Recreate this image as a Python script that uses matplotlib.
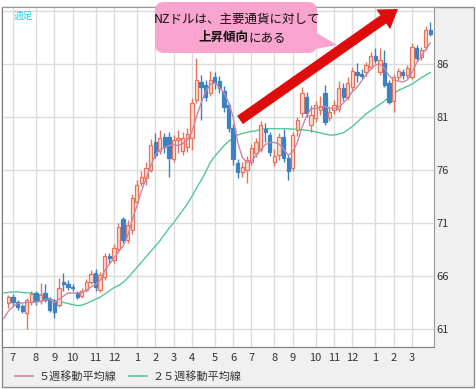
import matplotlib
matplotlib.use("Agg")
import matplotlib.pyplot as plt
from matplotlib.patches import FancyBboxPatch, FancyArrow, Polygon, Rectangle

plt.rcParams['font.family'] = ['Noto Sans CJK JP', 'DejaVu Sans']

# 週足データ（週番号 0..92）
opens = [63.45, 64.0, 63.5, 63.2, 62.5, 63.5, 64.4, 63.6, 64.4, 63.8,
         63.6, 63.3, 65.4, 65.2, 65.0, 64.4, 64.1, 64.7, 65.4, 66.3,
         64.7, 65.9, 67.9, 67.5, 68.5, 71.4, 69.4, 70.3, 73.0, 74.8,
         75.2, 76.0, 78.6, 77.8, 79.1, 79.1, 77.0, 78.8, 77.8, 78.2,
         79.0, 82.6, 84.3, 84.0, 83.3, 84.8, 84.4, 83.5, 82.1, 80.0,
         76.7, 75.8, 76.0, 76.8, 77.6, 78.0, 79.9, 79.3, 76.8, 77.4,
         79.1, 77.1, 76.2, 79.8, 81.4, 82.9, 80.2, 80.9, 81.7, 83.3,
         80.9, 81.7, 81.8, 83.7, 82.9, 83.8, 85.2, 85.1, 85.2, 85.7,
         86.8, 85.2, 86.1, 84.2, 82.5, 84.8, 85.2, 85.0, 84.8, 87.5,
         86.7, 87.6, 89.2]
highs = [64.2, 64.3, 63.7, 63.4, 63.9, 64.6, 64.6, 65.3, 65.2, 64.0,
         63.8, 65.8, 66.3, 65.6, 65.2, 64.6, 64.9, 65.7, 66.6, 66.7,
         66.4, 68.2, 68.2, 69.0, 71.0, 71.6, 71.3, 73.7, 75.1, 75.9,
         76.8, 78.9, 79.5, 79.8, 79.5, 79.6, 79.3, 79.8, 79.6, 80.0,
         82.8, 86.6, 85.0, 84.5, 85.3, 85.2, 84.9, 83.9, 82.3, 80.3,
         77.0, 76.8, 77.3, 78.5, 79.0, 80.6, 80.4, 79.6, 78.0, 79.5,
         79.9, 77.4, 79.6, 81.0, 83.8, 83.4, 82.1, 82.5, 83.0, 84.0,
         82.0, 82.6, 84.4, 84.2, 84.8, 85.7, 86.1, 85.5, 86.2, 87.1,
         87.5, 87.5, 87.3, 84.5, 85.1, 85.6, 85.5, 85.9, 88.0, 87.8,
         87.6, 89.6, 90.0]
lows = [63.0, 63.2, 62.8, 62.5, 61.0, 63.3, 63.3, 63.4, 63.5, 62.6,
        62.0, 63.1, 64.6, 64.7, 64.6, 63.8, 63.9, 64.5, 65.2, 64.6,
        64.5, 65.6, 67.2, 67.2, 68.2, 69.1, 69.1, 70.0, 72.8, 74.5,
        74.6, 75.8, 77.1, 77.5, 77.6, 75.3, 76.8, 77.6, 77.4, 77.7,
        77.9, 82.3, 80.7, 82.5, 83.0, 83.6, 83.3, 81.5, 79.6, 76.5,
        75.2, 75.3, 74.8, 76.5, 77.2, 77.7, 78.6, 77.3, 76.4, 76.9,
        76.8, 75.1, 75.9, 79.2, 81.0, 81.0, 79.6, 80.5, 81.2, 80.2,
        80.6, 81.3, 81.5, 82.5, 82.6, 83.5, 84.3, 84.6, 84.9, 85.5,
        86.1, 85.0, 83.8, 82.2, 81.5, 84.5, 84.6, 84.7, 84.6, 86.3,
        86.4, 87.3, 88.6]
closes = [64.0, 63.5, 63.1, 62.7, 63.7, 64.3, 63.6, 64.2, 63.7, 62.8,
          62.6, 64.9, 65.2, 65.0, 64.9, 64.0, 64.6, 65.4, 66.2, 65.0,
          66.1, 67.9, 67.7, 68.6, 70.6, 69.4, 70.8, 73.4, 74.6, 75.3,
          76.2, 78.4, 77.4, 79.0, 78.2, 77.1, 78.8, 79.0, 79.0, 79.4,
          82.3, 84.5, 83.8, 82.9, 84.5, 84.2, 83.7, 81.9, 80.0, 77.0,
          75.8, 76.3, 76.9, 78.1, 78.6, 80.2, 79.6, 77.7, 77.3, 79.1,
          77.1, 75.9, 79.3, 80.7, 83.3, 81.4, 81.2, 82.1, 82.0, 80.5,
          81.5, 82.1, 83.7, 82.9, 84.2, 85.3, 85.0, 84.9, 85.9, 86.8,
          86.4, 86.4, 84.0, 82.4, 84.8, 85.3, 85.0, 85.6, 87.6, 86.6,
          87.3, 89.2, 88.8]
weeks = list(range(len(closes)))

# 移動平均線（週番号 -1..92）
ma_weeks = list(range(-1, len(closes)))
ma5 = [62.0, 62.7, 63.1, 63.4, 63.45, 63.5, 63.5, 63.55, 63.6, 63.75, 63.8,
       63.5, 63.8, 64.1, 64.4, 64.4, 64.4, 64.45, 64.65, 64.95, 65.2,
       65.6, 66.5, 67.1, 67.7, 68.3, 68.8, 69.8, 71.3, 72.6, 74.0,
       75.2, 76.3, 77.4, 77.9, 78.1, 78.3, 78.4, 78.3, 78.5, 78.8,
       79.6, 81.0, 82.3, 83.4, 84.1, 84.2, 83.8, 83.3, 82.4, 81.0,
       78.6, 77.2, 76.7, 76.8, 77.4, 77.9, 78.4, 78.6, 78.6, 78.45,
       78.0, 77.4, 77.7, 78.6, 80.0, 81.1, 81.8, 81.8, 81.9, 82.0,
       81.8, 81.8, 81.9, 82.3, 82.8, 83.4, 83.8, 84.4, 85.0, 85.5,
       85.9, 86.0, 85.6, 84.9, 84.5, 84.4, 84.3, 84.5, 85.2, 86.1,
       86.7, 87.4, 88.0]
ma25 = [64.4, 64.45, 64.5, 64.5, 64.45, 64.4, 64.4, 64.3, 64.2, 64.0, 63.85,
        63.7, 63.6, 63.5, 63.4, 63.3, 63.2, 63.25, 63.4, 63.6, 63.8,
        64.0, 64.3, 64.6, 64.9, 65.1, 65.4, 65.8, 66.3, 66.8, 67.3,
        67.8, 68.3, 68.8, 69.3, 69.9, 70.5, 71.0, 71.6, 72.2, 72.8,
        73.5, 74.3, 75.0, 75.8, 76.7, 77.3, 77.8, 78.3, 78.7, 79.0,
        79.3, 79.45, 79.55, 79.65, 79.7, 79.85, 79.9, 79.9, 79.9, 79.9,
        79.9, 79.9, 79.85, 79.85, 79.8, 79.75, 79.7, 79.6, 79.5, 79.4,
        79.3, 79.3, 79.4, 79.5, 79.8, 80.1, 80.5, 80.9, 81.3, 81.6,
        81.9, 82.2, 82.5, 82.9, 83.2, 83.5, 83.7, 83.9, 84.1, 84.4,
        84.7, 84.95, 85.2]

months = ['7', '8', '9', '10', '11', '12', '1', '2', '3', '4', '5', '6',
          '7', '8', '9', '10', '11', '12', '1', '2', '3']
month_week = [1, 6, 10, 14, 19, 23, 28, 32, 36, 40, 45, 49,
              53, 58, 62, 67, 71, 75, 80, 84, 88]
yticks = [61, 66, 71, 76, 81, 86, 91]

up_edge = '#e6735a'
up_face = '#fcdcd3'
down_col = '#3b82c4'
ma5_col = '#c986a8'
ma25_col = '#52c994'

W, H = 477, 389
fig = plt.figure(figsize=(W / 100, H / 100), dpi=100)
fig.patch.set_facecolor('white')

# 背景（グレーの枠）
bg = fig.add_axes([0, 0, 1, 1], zorder=-5)
bg.set_xlim(0, W)
bg.set_ylim(H, 0)
bg.axis('off')
bg.add_patch(Rectangle((2, 7), 472, 380, facecolor='#f0f0f0', edgecolor='#8c8c8c', lw=1))

ax = fig.add_axes([2 / W, 1 - 347 / H, 432 / W, 340 / H])
ax.set_facecolor('white')

for w in month_week:
    ax.axvline(w, color='#dcdcdc', lw=1, zorder=0)
for v in yticks:
    ax.axhline(v, color='#dcdcdc', lw=1, zorder=0)

ax.plot(ma_weeks, ma25, color=ma25_col, lw=1, zorder=2)

for i in weeks:
    o, h, l, c = opens[i], highs[i], lows[i], closes[i]
    if c >= o:
        ax.vlines(i, l, h, color=up_edge, lw=1, zorder=3)
        ax.bar(i, c - o, bottom=o, width=0.72, facecolor=up_face,
               edgecolor=up_edge, lw=0.9, zorder=4)
    else:
        ax.vlines(i, l, h, color=down_col, lw=1, zorder=3)
        ax.bar(i, o - c, bottom=c, width=0.72, facecolor=down_col,
               edgecolor=down_col, lw=0.9, zorder=4)

ax.plot(ma_weeks, ma5, color=ma5_col, lw=1, zorder=5)

ax.set_xlim(-1.4, 92.8)
ax.set_ylim(59.3, 91.38)
ax.set_xticks(month_week)
ax.set_xticklabels(months)
ax.set_yticks(yticks)
ax.set_yticklabels([str(v) if v < 91 else '' for v in yticks])
ax.yaxis.tick_right()
ax.tick_params(axis='both', length=0, labelsize=8, colors='#333333')
ax.tick_params(axis='x', pad=4)
ax.tick_params(axis='y', pad=2)
for s in ['left', 'bottom']:
    ax.spines[s].set_color('#7a7a7a')
for s in ['top', 'right']:
    ax.spines[s].set_color('#9a9a9a')

# 注釈・凡例
ov = fig.add_axes([0, 0, 1, 1], zorder=10)
ov.set_xlim(0, W)
ov.set_ylim(H, 0)
ov.axis('off')

ov.text(14, 16, '週足', color='#3ec8f0', fontsize=7, va='center', ha='left')

ov.add_patch(FancyArrow(240, 120, 158, -111, width=10, head_width=24,
                        head_length=18, length_includes_head=True,
                        color='#e00b0b', lw=0))

ov.add_patch(Polygon([(305, 26), (337, 45), (300, 52)], closed=True,
                     facecolor='#f9a3cf', edgecolor='none'))
ov.add_patch(FancyBboxPatch((155, 2), 162, 51,
                            boxstyle='round,pad=0,rounding_size=9',
                            facecolor='#f9a3cf', edgecolor='none'))
ov.text(237, 19, 'NZドルは、主要通貨に対して', fontsize=9, ha='center',
        va='center', color='#111111')
ov.text(248, 37.5, '上昇傾向', fontsize=9, ha='right', va='center',
        fontweight='bold', color='#111111')
ov.text(248, 37.5, 'にある', fontsize=9, ha='left', va='center',
        color='#111111')

ov.plot([15, 33], [376, 376], color=ma5_col, lw=1.2)
ov.text(39, 376, '５週移動平均線', fontsize=8, va='center', ha='left', color='#333333')
ov.plot([129, 147], [376, 376], color=ma25_col, lw=1.2)
ov.text(152, 376, '２５週移動平均線', fontsize=8, va='center', ha='left', color='#333333')

fig.savefig('out.png', dpi=100)
